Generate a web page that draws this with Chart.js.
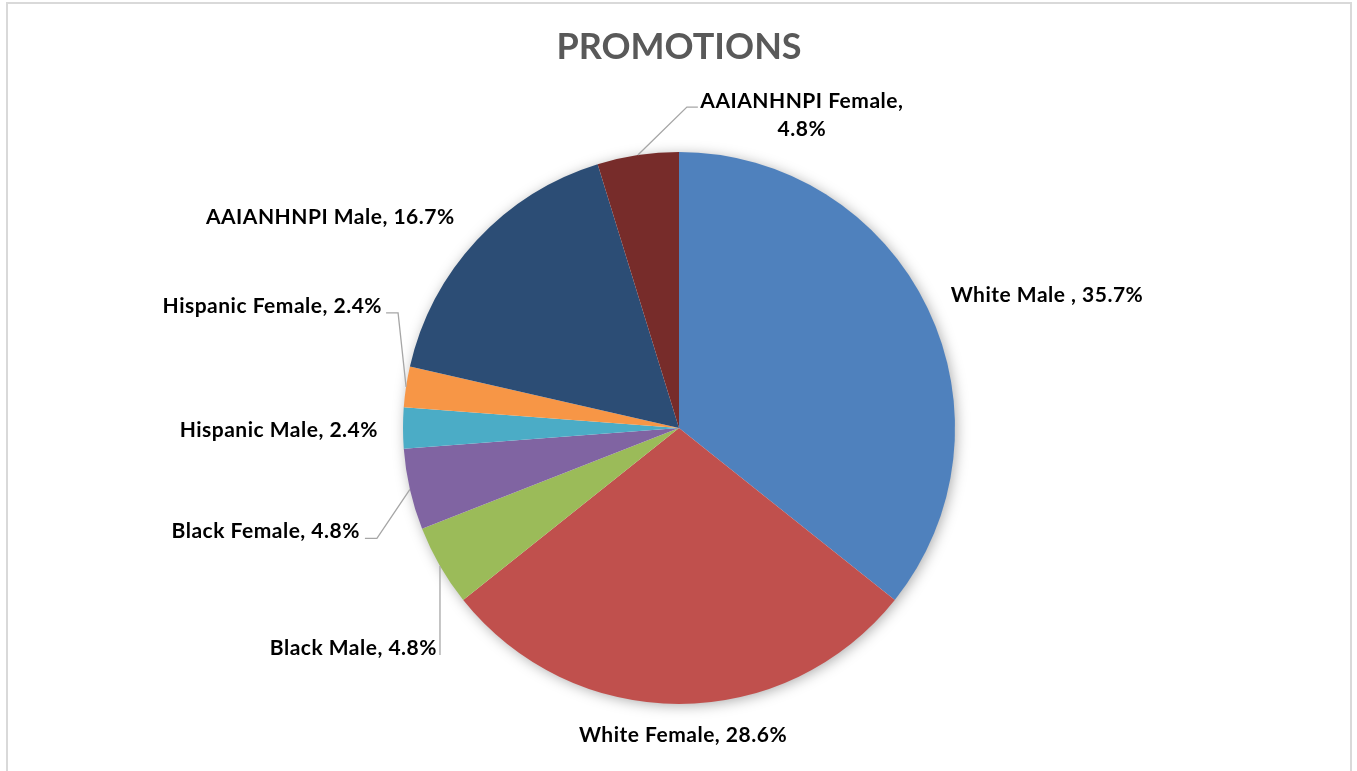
<!DOCTYPE html>
<html>
<head>
<meta charset="utf-8">
<title>Promotions</title>
<script src="https://cdn.jsdelivr.net/npm/chart.js@4.4.1/dist/chart.umd.min.js"></script>
<style>
  html, body { margin: 0; padding: 0; background: #fff; }
  #wrap { width: 1357px; height: 771px; }
</style>
</head>
<body>
<div id="wrap"><canvas id="promoChart" width="1357" height="771"></canvas></div>
<script>
// data (counts out of 42 promotions)
const categories = ['White Male ', 'White Female', 'Black Male', 'Black Female',
  'Hispanic Male', 'Hispanic Female', 'AAIANHNPI Male', 'AAIANHNPI Female'];
const promotions = [15, 12, 2, 2, 1, 1, 7, 2];
const chartTitle = 'PROMOTIONS';

const sliceColors = ['#4F81BD', '#C0504D', '#9BBB59', '#8064A2',
  '#4BACC6', '#F79646', '#2C4D75', '#772C2A'];

// where each data label sits, relative to the slice edge at its mid angle
// align: text alignment, dx/dy: offset of the text baseline point, leader: bend points
const labelPlacement = [
  { align: 'left', dx: 23, dy: -6 },
  { align: 'center', dx: 4, dy: 38 },
  { align: 'right', dx: -3, dy: 89, leader: [[0, 89]] },
  { align: 'right', dx: -50, dy: 49, leader: [[-33, 49], [-45, 49]] },
  { align: 'right', dx: -25, dy: 9 },
  { align: 'right', dx: -24, dy: -74, leader: [[-8, -74], [-20, -74]] },
  { align: 'right', dx: -22, dy: -16 },
  { align: 'center', dx: 164, dy: -47, split: true, leader: [[49, -48], [60, -48]] }
];

(function () {
  const total = promotions.reduce((a, b) => a + b, 0);

  function pct(v) {
    return (v / total * 100).toFixed(1) + '%';
  }

  const frame = {
    id: 'frame',
    beforeDraw(chart) {
      const ctx = chart.ctx;
      ctx.save();
      ctx.fillStyle = '#ffffff';
      ctx.fillRect(0, 0, chart.width, chart.height);
      ctx.strokeStyle = '#d9d9d9';
      ctx.lineWidth = 2;
      ctx.strokeRect(7, 3, chart.width - 13, chart.height + 20);
      ctx.restore();
    },
    beforeDatasetsDraw(chart) {
      // soft shadow under the pie
      const arc = chart.getDatasetMeta(0).data[0];
      if (!arc) return;
      const p = arc.getProps(['x', 'y', 'outerRadius'], true);
      const ctx = chart.ctx;
      ctx.save();
      ctx.shadowColor = 'rgba(0,0,0,0.35)';
      ctx.shadowBlur = 14;
      ctx.shadowOffsetX = 2;
      ctx.shadowOffsetY = 2;
      ctx.fillStyle = '#ffffff';
      ctx.beginPath();
      ctx.arc(p.x, p.y, p.outerRadius - 1, 0, Math.PI * 2);
      ctx.fill();
      ctx.restore();
    }
  };

  const sliceLabels = {
    id: 'sliceLabels',
    afterDatasetsDraw(chart) {
      const ctx = chart.ctx;
      const meta = chart.getDatasetMeta(0);
      ctx.save();
      ctx.font = 'bold 21px Lato';
      if ('letterSpacing' in ctx) ctx.letterSpacing = '0.5px';
      ctx.fillStyle = '#000000';
      ctx.textBaseline = 'alphabetic';
      meta.data.forEach(function (arc, i) {
        const p = arc.getProps(['x', 'y', 'startAngle', 'endAngle', 'outerRadius'], true);
        const mid = (p.startAngle + p.endAngle) / 2;
        const ex = p.x + Math.cos(mid) * p.outerRadius;
        const ey = p.y + Math.sin(mid) * p.outerRadius;
        const place = labelPlacement[i];

        if (place.leader) {
          ctx.strokeStyle = '#a6a6a6';
          ctx.lineWidth = 1.3;
          ctx.beginPath();
          ctx.moveTo(ex, ey);
          place.leader.forEach(function (pt) {
            ctx.lineTo(ex + pt[0], ey + pt[1]);
          });
          ctx.stroke();
        }

        ctx.textAlign = place.align;
        const name = categories[i];
        const value = pct(promotions[i]);
        if (place.split) {
          ctx.fillText(name + ',', ex + place.dx, ey + place.dy);
          ctx.fillText(value, ex + place.dx, ey + place.dy + 28);
        } else {
          ctx.fillText(name + ', ' + value, ex + place.dx, ey + place.dy);
        }
      });
      ctx.restore();
    }
  };

  new Chart(document.getElementById('promoChart'), {
    type: 'pie',
    data: {
      labels: categories,
      datasets: [{
        data: promotions,
        backgroundColor: sliceColors,
        borderWidth: 0,
        hoverOffset: 0
      }]
    },
    options: {
      responsive: false,
      animation: false,
      layout: {
        padding: { top: 0, bottom: 67, left: 403, right: 402 }
      },
      plugins: {
        legend: { display: false },
        tooltip: { enabled: false },
        title: {
          display: true,
          text: chartTitle,
          color: '#595959',
          font: { family: 'Lato', size: 36, weight: 'bold' },
          padding: { top: 26, bottom: 82.8 }
        }
      }
    },
    plugins: [frame, sliceLabels]
  });
})();
</script>
</body>
</html>
